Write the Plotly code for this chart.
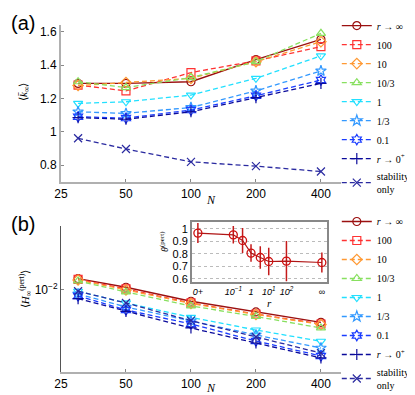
import plotly.graph_objects as go

# --- data ---
N = [30, 50, 100, 200, 400]

labels_a = ["<i>r</i> → ∞", "100", "10", "10/3", "1", "1/3", "0.1", "<i>r</i> → 0<sup>+</sup>", "stability<br>only"]

# panel (a): <k_inf>
k_rinf = [1.29, 1.29, 1.30, 1.433, 1.554]
k_r100 = [1.28, 1.245, 1.355, 1.425, 1.51]
k_r10 = [1.277, 1.295, 1.32, 1.42, 1.54]
k_r10_3 = [1.30, 1.265, 1.325, 1.42, 1.59]
k_r1 = [1.17, 1.18, 1.22, 1.32, 1.455]
k_r1_3 = [1.12, 1.11, 1.146, 1.245, 1.365]
k_r01 = [1.09, 1.082, 1.13, 1.216, 1.31]
k_r0 = [1.085, 1.075, 1.12, 1.205, 1.29]
k_stab = [0.961, 0.897, 0.82, 0.794, 0.762]

# panel (b): <H_inf^(pert)>
h_rinf = [0.01297, 0.01064, 0.00771, 0.00603, 0.00475]
h_r100 = [0.01274, 0.01023, 0.00741, 0.00575, 0.00457]
h_r10 = [0.01259, 0.01000, 0.00733, 0.00569, 0.00452]
h_r10_3 = [0.01230, 0.00955, 0.00692, 0.00543, 0.00417]
h_r1 = [0.00971, 0.00741, 0.00533, 0.00398, 0.00307]
h_r1_3 = [0.00912, 0.00676, 0.00490, 0.00355, 0.00263]
h_r01 = [0.00871, 0.00631, 0.00457, 0.00309, 0.00219]
h_r0 = [0.00818, 0.00612, 0.00417, 0.00295, 0.00209]
h_stab = [0.00971, 0.00741, 0.00493, 0.00339, 0.00234]

# inset: theta^(pert) vs r  (0+ drawn at 1e-3, infinity at 1e4)
r_vals = [1e-3, 0.1, 1 / 3, 1, 10 / 3, 10, 100, 1e4]
theta = [0.966, 0.952, 0.907, 0.806, 0.771, 0.739, 0.742, 0.731]
theta_err = [0.08, 0.07, 0.10, 0.07, 0.09, 0.11, 0.16, 0.08]
r_tickvals = [1e-3, 0.1, 1, 10, 100, 1e4]
r_ticktext = ["<i>0+</i>", "<i>10<sup>−1</sup></i>", "<i>1</i>", "<i>10<sup>1</sup></i>", "<i>10<sup>2</sup></i>", "∞"]

colors = ["#9b1010", "#ff3333", "#ff9933", "#88e060", "#22e0ff", "#3399ff", "#1a3cff", "#0a0a9a", "#2a2aa0"]
symbols = ["circle-open", "square-open", "diamond-open", "triangle-up-open", "triangle-down-open",
           "star-open", "hexagram-open", "cross-thin-open", "x-thin-open"]

series_a = [k_rinf, k_r100, k_r10, k_r10_3, k_r1, k_r1_3, k_r01, k_r0, k_stab]
series_b = [h_rinf, h_r100, h_r10, h_r10_3, h_r1, h_r1_3, h_r01, h_r0, h_stab]

fig = go.Figure()

for i in range(len(labels_a)):
    line = dict(color=colors[i], width=1.3)
    if i > 0:
        line["dash"] = "5px,3px"
    mk = dict(symbol=symbols[i], size=8, color=colors[i], line=dict(width=1.2, color=colors[i]))
    fig.add_trace(go.Scatter(x=N, y=series_a[i], mode="lines+markers", name=labels_a[i],
                             line=line, marker=mk, xaxis="x", yaxis="y", legend="legend"))
    fig.add_trace(go.Scatter(x=N, y=series_b[i], mode="lines+markers", name=labels_a[i],
                             line=line, marker=mk, xaxis="x2", yaxis="y2", legend="legend2"))

# inset
fig.add_trace(go.Scatter(x=r_vals, y=theta, mode="lines+markers", showlegend=False,
                         line=dict(color="#b01515", width=1.2),
                         marker=dict(symbol="circle-open", size=8, color="#cc1111", line=dict(width=1.3, color="#cc1111")),
                         error_y=dict(type="data", array=theta_err, color="#c41a1a", thickness=1.5, width=0),
                         xaxis="x3", yaxis="y3"))

tickfont = dict(family="Liberation Sans", size=12, color="black")
xcommon = dict(type="log", range=[1.398, 2.695], tickvals=[25, 50, 100, 200, 400],
               ticktext=["25", "50", "100", "200", "400"], showline=True, ticks="inside",
               ticklen=3, tickcolor="#888", showgrid=False, zeroline=False, tickfont=tickfont)
legfont = dict(family="Liberation Serif", size=10, color="black")

fig.update_layout(
    width=415, height=395, autosize=False,
    margin=dict(l=53, r=82, t=17, b=31, autoexpand=False),
    plot_bgcolor="white", paper_bgcolor="white",
    xaxis=dict(xcommon, domain=[0, 1], anchor="y", linecolor="#b0b0b0", linewidth=2),
    yaxis=dict(domain=[0.548, 1.0], anchor="x", range=[0.7, 1.64], tickvals=[0.8, 1, 1.2, 1.4, 1.6],
               ticktext=["0.8", "1", "1.2", "1.4", "1.6"], showline=True, linecolor="#b0b0b0", linewidth=2,
               ticks="inside", ticklen=3, tickcolor="#888", showgrid=False, zeroline=False, tickfont=tickfont),
    xaxis2=dict(xcommon, domain=[0, 1], anchor="y2", linecolor="#b0b0b0", linewidth=2),
    yaxis2=dict(type="log", domain=[0, 0.421], anchor="x2", range=[-2.82, -1.36], tickvals=[0.01],
                ticktext=["10<sup>−2</sup>"], showline=True, linecolor="#555", linewidth=1,
                ticks="inside", ticklen=3, tickcolor="#888", showgrid=False, zeroline=False, tickfont=tickfont),
    xaxis3=dict(type="log", domain=[0.468, 0.95], anchor="y3", range=[-3.33, 4.29], tickvals=r_tickvals,
                ticktext=r_ticktext, showline=True, mirror=True, linecolor="#888", linewidth=2,
                ticks="", showgrid=False, zeroline=False,
                tickfont=dict(family="Liberation Sans", size=9, color="black")),
    yaxis3=dict(domain=[0.259, 0.432], anchor="x3", range=[0.574, 1.054], tickvals=[0.6, 0.7, 0.8, 0.9, 1],
                ticktext=["0.6", "0.7", "0.8", "0.9", "1"], showline=True, mirror=True, linecolor="#888",
                linewidth=2, ticks="", showgrid=True, gridcolor="#bbb", griddash="dot", gridwidth=1,
                zeroline=False, tickfont=dict(family="Liberation Sans", size=11, color="black")),
    legend=dict(x=0.985, y=1.040, xanchor="left", yanchor="top", bgcolor="rgba(0,0,0,0)",
                font=legfont, itemwidth=30, tracegroupgap=0),
    legend2=dict(x=0.985, y=0.4755, xanchor="left", yanchor="top", bgcolor="rgba(0,0,0,0)",
                 font=legfont, itemwidth=30, tracegroupgap=0),
    showlegend=True,
)

# white background behind the inset
fig.add_shape(type="rect", xref="x3 domain", yref="y3 domain", x0=0, x1=1, y0=0, y1=1,
              fillcolor="white", line=dict(width=0), layer="below")

serif = dict(family="Liberation Serif", color="black")
notes = [
    dict(text="(a)", x=-0.136, y=1.006, font=dict(family="Liberation Sans", size=20, color="black")),
    dict(text="(b)", x=-0.136, y=0.427, font=dict(family="Liberation Sans", size=20, color="black")),
    dict(text="<i>N</i>", x=0.535, y=0.497, font=dict(serif, size=12)),
    dict(text="<i>N</i>", x=0.535, y=-0.046, font=dict(serif, size=12)),
    dict(text="⟨<i>k̄</i><sub>∞</sub>⟩", x=-0.132, y=0.807, textangle=-90, font=dict(serif, size=11)),
    dict(text="⟨<i>H</i><sub>∞</sub><sup>(pert)</sup>⟩", x=-0.128, y=0.239, textangle=-90, font=dict(serif, size=11)),
    dict(text="<i>θ</i><sup>(pert)</sup>", x=0.368, y=0.375, textangle=-90, font=dict(serif, size=10)),
    dict(text="<i>r</i>", x=0.743, y=0.199, font=dict(serif, size=11)),
]
for a in notes:
    fig.add_annotation(xref="paper", yref="paper", showarrow=False, xanchor="center", yanchor="middle", **a)

fig.write_html("out.html")
